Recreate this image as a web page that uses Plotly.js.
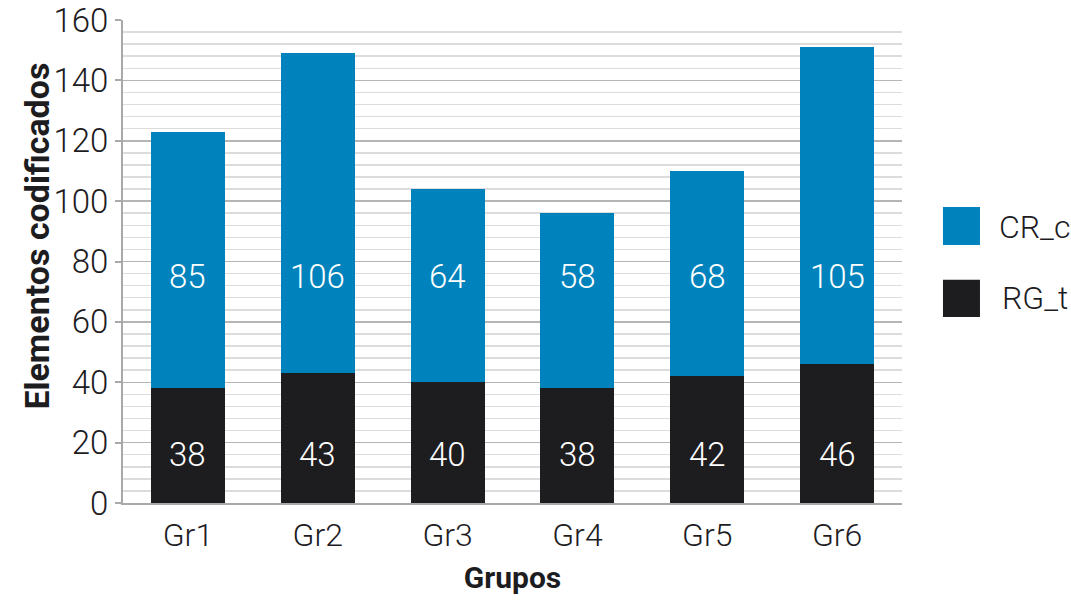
<!DOCTYPE html>
<html>
<head>
<meta charset="utf-8">
<script src="https://cdn.plot.ly/plotly-3.0.1.min.js"></script>
<style>
  html, body { margin: 0; padding: 0; background: #fff; }
  #chart { width: 1071px; height: 600px; }
</style>
</head>
<body>
<div id="chart"></div>
<script>
// data
groups = ['Gr1', 'Gr2', 'Gr3', 'Gr4', 'Gr5', 'Gr6'];
rgT = [38, 43, 40, 38, 42, 46];
crC = [85, 106, 64, 58, 68, 105];
seriesNames = ['CR_c', 'RG_t'];

BLUE = '#0083bd';
DARK = '#1d1c1f';
FONT = 'Roboto, "Liberation Sans", sans-serif';

CHART = document.getElementById('chart');

// value labels sit at a fixed height inside each segment
labels = [];
groups.forEach(function (g, i) {
  labels.push({
    x: g, y: 75, xref: 'x', yref: 'y', text: String(crC[i]), showarrow: false,
    font: {family: FONT, size: 33, color: '#ffffff', weight: 300}
  });
  labels.push({
    x: g, y: 16, xref: 'x', yref: 'y', text: String(rgT[i]), showarrow: false,
    font: {family: FONT, size: 33, color: '#ffffff', weight: 300}
  });
});

// y title and hand-drawn legend (plotly's legend swatches are too small)
labels.push({
  x: -0.139, y: 0.553, xref: 'paper', yref: 'paper', text: 'Elementos codificados',
  textangle: -90, showarrow: false,
  font: {family: FONT, size: 34, color: '#1d1c1f', weight: 'bold'}
});
labels.push({
  x: 1.122, y: 0.572, xref: 'paper', yref: 'paper', xanchor: 'left', text: seriesNames[0],
  showarrow: false, font: {family: FONT, size: 32, color: '#1d1c1f', weight: 300}
});
labels.push({
  x: 1.126, y: 0.424, xref: 'paper', yref: 'paper', xanchor: 'left', text: seriesNames[1],
  showarrow: false, font: {family: FONT, size: 32, color: '#1d1c1f', weight: 300}
});

shapes = [
  {type: 'rect', xref: 'paper', yref: 'paper', x0: 1.0526, x1: 1.1001, y0: 0.534, y1: 0.613,
   fillcolor: BLUE, line: {width: 0}},
  {type: 'rect', xref: 'paper', yref: 'paper', x0: 1.0526, x1: 1.1001, y0: 0.385, y1: 0.462,
   fillcolor: DARK, line: {width: 0}}
];

layout = {
  width: 1071,
  height: 600,
  margin: {l: 123, r: 169, t: 20, b: 97},
  paper_bgcolor: '#ffffff',
  plot_bgcolor: '#ffffff',
  barmode: 'stack',
  bargap: 0.43,
  showlegend: false,
  font: {family: FONT, color: '#1d1c1f'},
  xaxis: {
    type: 'category',
    showgrid: false,
    showline: true,
    linecolor: '#a9a9a9',
    linewidth: 2,
    ticks: '',
    ticklabelstandoff: 3,
    tickfont: {family: FONT, size: 32, color: '#1d1c1f', weight: 300},
    title: {
      text: 'Grupos',
      standoff: 14,
      font: {family: FONT, size: 30, color: '#1d1c1f', weight: 'bold'}
    }
  },
  yaxis: {
    range: [0, 160],
    dtick: 20,
    showline: true,
    linecolor: '#a9a9a9',
    linewidth: 2,
    ticks: 'outside',
    ticklen: 6,
    tickwidth: 2,
    tickcolor: '#a9a9a9',
    gridcolor: '#b5b5b5',
    gridwidth: 1.5,
    zeroline: false,
    tickfont: {family: FONT, size: 33, color: '#1d1c1f', weight: 300},
    minor: {dtick: 4, showgrid: true, gridcolor: '#dcdcdc', gridwidth: 1.5, ticks: ''}
  },
  annotations: labels,
  shapes: shapes
};

Plotly.newPlot(CHART, [
  {
    x: groups,
    y: rgT,
    type: 'bar',
    name: seriesNames[1],
    marker: {color: DARK, line: {width: 0}},
    hoverinfo: 'x+y'
  },
  {
    x: groups,
    y: crC,
    type: 'bar',
    name: seriesNames[0],
    marker: {color: BLUE, line: {width: 0}},
    hoverinfo: 'x+y'
  }], layout, {displayModeBar: false, staticPlot: true});
</script>
</body>
</html>
